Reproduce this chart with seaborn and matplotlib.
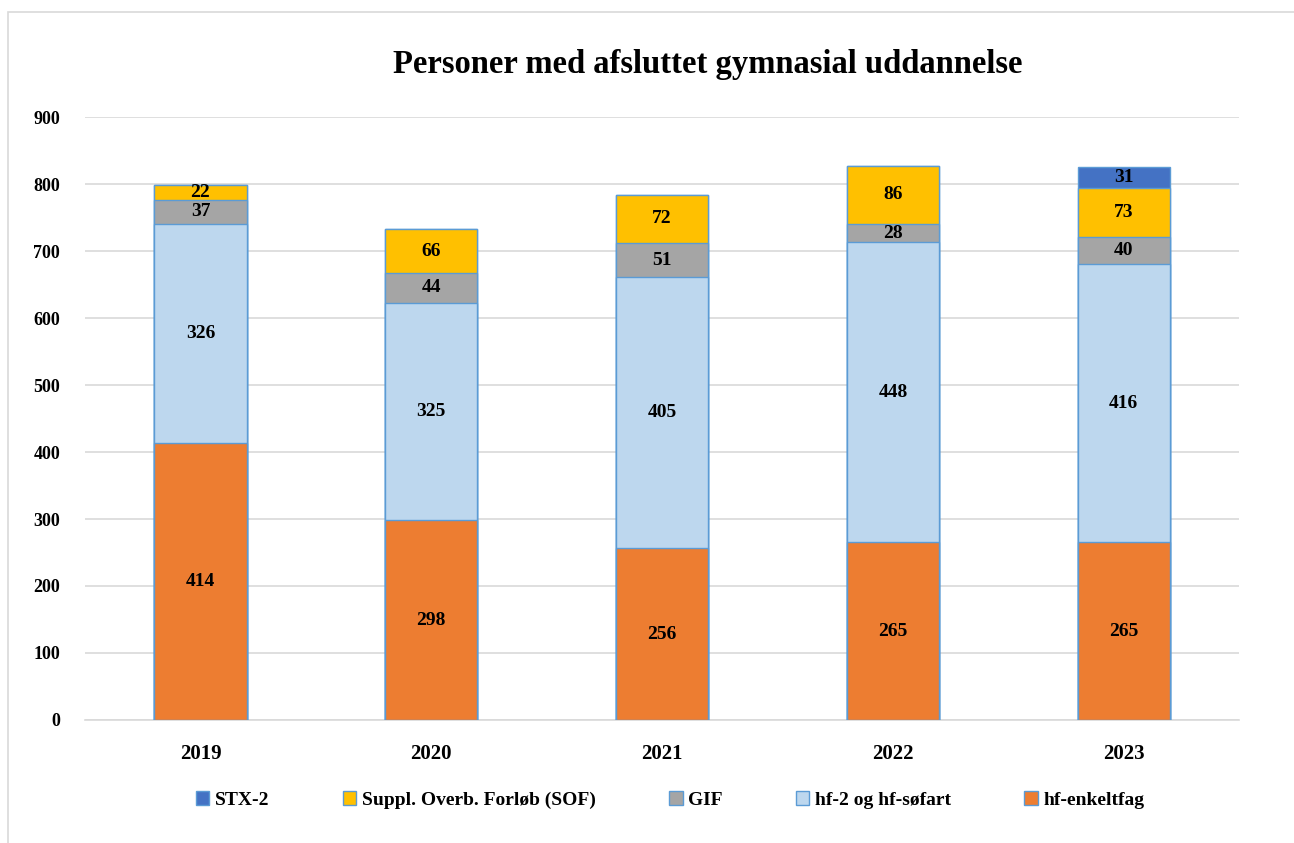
import numpy as np
import pandas as pd
import matplotlib
matplotlib.use('Agg')
import matplotlib.pyplot as plt
from matplotlib.patches import Rectangle, Patch
import seaborn as sns

# Data
years = ['2019', '2020', '2021', '2022', '2023']
hf_enkeltfag = [414, 298, 256, 265, 265]
hf_2 = [326, 325, 405, 448, 416]
gif = [37, 44, 51, 28, 40]
sof = [22, 66, 72, 86, 73]
stx_2 = [0, 0, 0, 0, 31]

series_names = ['hf-enkeltfag', 'hf-2 og hf-søfart', 'GIF', 'Suppl. Overb. Forløb (SOF)', 'STX-2']
series_vals = [hf_enkeltfag, hf_2, gif, sof, stx_2]
colors = ['#ED7D31', '#BDD7EE', '#A5A5A5', '#FFC000', '#4472C4']
edge = '#5B9BD5'

sns.set_theme(style='white')
plt.rcParams['font.family'] = ['Liberation Serif', 'DejaVu Serif']
plt.rcParams['font.weight'] = 'bold'
plt.rcParams['text.color'] = 'black'
plt.rcParams['xtick.color'] = 'black'
plt.rcParams['ytick.color'] = 'black'

fig = plt.figure(figsize=(12.94, 8.43), dpi=100)
ax = fig.add_axes([0.0657, 0.146, 0.892, 0.715])

# stacked bars: draw cumulative totals from the top layer down
cum = np.cumsum(np.array(series_vals), axis=0)
for i in range(len(series_names) - 1, -1, -1):
    df = pd.DataFrame({'year': years, 'value': cum[i]})
    sns.barplot(data=df, x='year', y='value', color=colors[i], width=0.4,
                edgecolor=edge, linewidth=1.0, saturation=1, ax=ax, zorder=3)

# segment labels
for i, vals in enumerate(series_vals):
    for j, v in enumerate(vals):
        if v == 0:
            continue
        base = cum[i][j] - v
        ax.text(j, base + v / 2, str(v), ha='center', va='center',
                fontsize=14, fontweight='bold', color='black', zorder=5)

ax.set_ylim(0, 900)
ax.set_xlim(-0.5, 4.5)
ax.set_yticks(range(0, 901, 100))
ax.yaxis.grid(True, color='#D9D9D9', linewidth=1.2, zorder=0)
ax.set_axisbelow(True)
for s in ['top', 'right', 'left']:
    ax.spines[s].set_visible(False)
ax.spines['bottom'].set_color('#D9D9D9')
ax.spines['bottom'].set_linewidth(1.2)
ax.tick_params(axis='both', length=0)
ax.tick_params(axis='y', labelsize=13, pad=18)
ax.tick_params(axis='x', labelsize=15, pad=17)
for lbl in ax.get_xticklabels() + ax.get_yticklabels():
    lbl.set_fontweight('bold')
ax.set_xlabel('')
ax.set_ylabel('')

fig.text(0.547, 0.923, 'Personer med afsluttet gymnasial uddannelse',
         ha='center', va='center', fontsize=23.5, fontweight='bold')

# legend at the bottom
handles = [Patch(facecolor=colors[i], edgecolor=edge) for i in [4, 3, 2, 1, 0]]
labels = [series_names[i] for i in [4, 3, 2, 1, 0]]
fig.legend(handles, labels, loc='center', bbox_to_anchor=(0.518, 0.051), ncol=5,
           frameon=False, handlelength=0.7, handleheight=0.7,
           handletextpad=0.3, columnspacing=3.75, prop={'weight': 'bold', 'size': 14})

# light chart border
fig.patches.append(Rectangle((0.006, -0.01), 1.1, 0.996, transform=fig.transFigure,
                             fill=False, edgecolor='#D9D9D9', linewidth=1.2))

fig.savefig('out.png', dpi=100)
